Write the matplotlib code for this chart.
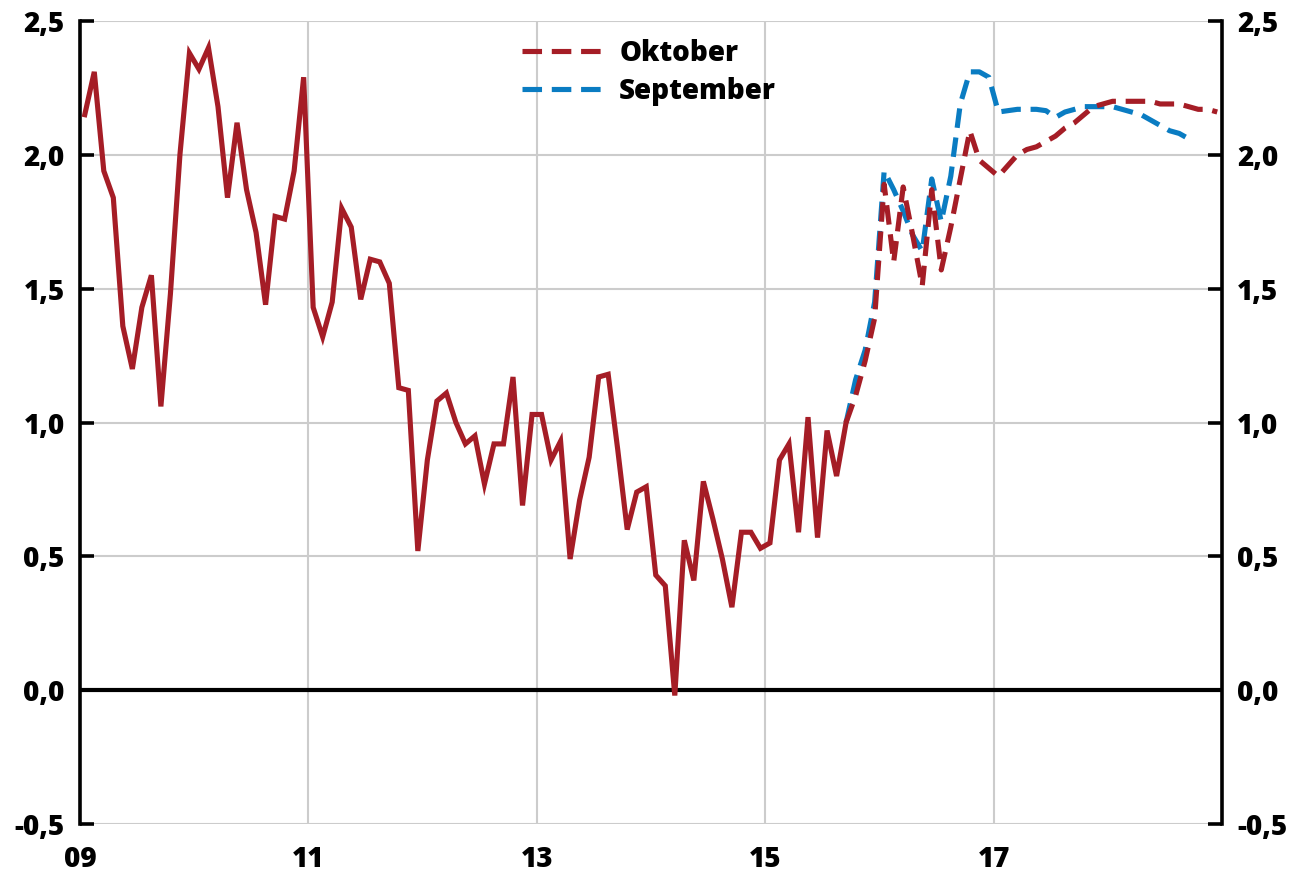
import numpy as np
import matplotlib
matplotlib.use("Agg")
from matplotlib import pyplot as plt
from matplotlib.ticker import FuncFormatter

# monthly values, history Jan 2009 - Sep 2015
history = [2.15, 2.31, 1.94, 1.84, 1.36, 1.20, 1.43, 1.55, 1.06, 1.48, 2.00, 2.38,
           2.32, 2.40, 2.18, 1.84, 2.12, 1.87, 1.71, 1.44, 1.77, 1.76, 1.94, 2.29,
           1.43, 1.32, 1.45, 1.80, 1.73, 1.46, 1.61, 1.60, 1.52, 1.13, 1.12, 0.52,
           0.86, 1.08, 1.11, 1.00, 0.92, 0.95, 0.77, 0.92, 0.92, 1.17, 0.69, 1.03,
           1.03, 0.86, 0.93, 0.49, 0.71, 0.87, 1.17, 1.18, 0.90, 0.60, 0.74, 0.76,
           0.43, 0.39, -0.02, 0.56, 0.41, 0.78, 0.64, 0.49, 0.31, 0.59, 0.59, 0.53,
           0.55, 0.86, 0.92, 0.59, 1.02, 0.57, 0.97, 0.80, 1.00]

# forecast "Oktober", Sep 2015 - Dec 2018
oktober = [1.00, 1.10, 1.23, 1.39,
           1.89, 1.60, 1.88, 1.70, 1.51, 1.87, 1.57, 1.73, 1.91, 2.09, 1.98, 1.95,
           1.92, 1.96, 2.00, 2.02, 2.03, 2.05, 2.07, 2.10, 2.12, 2.15, 2.18, 2.19,
           2.20, 2.20, 2.20, 2.20, 2.20, 2.19, 2.19, 2.19, 2.18, 2.17, 2.17, 2.16]

# forecast "September", Sep 2015 - Sep 2018
september = [1.00, 1.16, 1.27, 1.45,
             1.94, 1.87, 1.79, 1.70, 1.64, 1.91, 1.75, 1.92, 2.19, 2.31, 2.31, 2.29,
             2.16, 2.165, 2.17, 2.17, 2.17, 2.165, 2.14, 2.16, 2.17, 2.18, 2.18, 2.18,
             2.18, 2.17, 2.16, 2.15, 2.13, 2.11, 2.09, 2.08, 2.06]

x_ticks = [2009, 2011, 2013, 2015, 2017]
x_labels = ["09", "11", "13", "15", "17"]
y_ticks = [-0.5, 0.0, 0.5, 1.0, 1.5, 2.0, 2.5]

RED = "#a51d26"
BLUE = "#0a7cc2"
FONT = ["Open Sans", "DejaVu Sans"]
WEIGHT = "heavy"
SIZE = 20


def month_x(start_year, start_month, n):
    # mid-month positions in fractional years
    return start_year + (start_month - 1 + np.arange(n) + 0.5) / 12.0


def main():

    plt.rcParams["font.family"] = FONT
    plt.rcParams["font.weight"] = WEIGHT

    fig = plt.figure(figsize=(12.93, 8.76), dpi=100)
    ax = fig.add_axes([80 / 1293, 1 - 824 / 876, 1142 / 1293, 803 / 876])

    ax.set_xlim(2009, 2019)
    ax.set_ylim(-0.5, 2.5)

    ax.set_yticks(y_ticks)
    ax.set_xticks(x_ticks)
    ax.set_xticklabels(x_labels)

    ax.grid(True, color="#cccccc", lw=1.5)
    ax.set_axisbelow(True)

    ax.axhline(0, color="black", lw=3, zorder=2)

    dash = (3.8, 1.9)
    ax.plot(month_x(2015, 9, len(september)), september, color=BLUE, lw=3.7,
            dashes=dash, label="September", zorder=3)
    ax.plot(month_x(2015, 9, len(oktober)), oktober, color=RED, lw=3.7,
            dashes=dash, label="Oktober", zorder=4)
    ax.plot(month_x(2009, 1, len(history)), history, color=RED, lw=3.7,
            solid_joinstyle="miter", zorder=5)

    for side in ["top", "bottom"]:
        ax.spines[side].set_visible(False)
    for side in ["left", "right"]:
        ax.spines[side].set_linewidth(2.6)
        ax.spines[side].set_color("black")

    ax.yaxis.set_major_formatter(FuncFormatter(lambda v, p: ("%.1f" % v).replace(".", ",")))
    ax.tick_params(axis="y", which="both", direction="in", length=10, width=2.6,
                   left=True, right=True, labelleft=True, labelright=True,
                   labelsize=SIZE, pad=11)
    ax.tick_params(axis="x", length=0, labelsize=SIZE, pad=15)
    for t in ax.get_xticklabels() + ax.yaxis.get_ticklabels(which="both"):
        t.set_fontweight(WEIGHT)

    handles, labels = ax.get_legend_handles_labels()
    leg = ax.legend(handles[::-1], labels[::-1], loc="upper left",
                    bbox_to_anchor=(0.387, 0.978), frameon=False,
                    fontsize=SIZE, handlelength=3.1, handletextpad=0.4,
                    labelspacing=0.32, borderpad=0, borderaxespad=0)
    for t in leg.get_texts():
        t.set_fontweight(WEIGHT)

    fig.savefig("out.png", dpi=100)


if __name__ == '__main__':

    main()
